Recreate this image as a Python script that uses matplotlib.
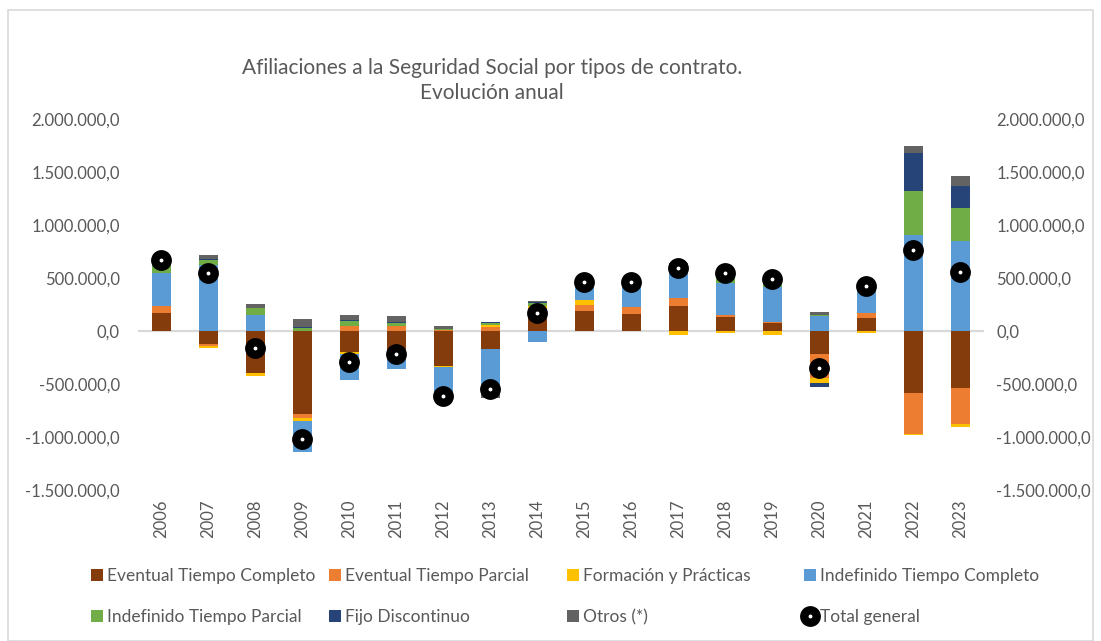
import numpy as np
import matplotlib
matplotlib.use("Agg")
from matplotlib import pyplot as plt
from matplotlib.lines import Line2D
from matplotlib.patches import Rectangle, Patch
from matplotlib.ticker import FuncFormatter

plt.rcParams["font.family"] = ["Lato", "DejaVu Sans"]
plt.rcParams["axes.unicode_minus"] = False

years = [str(y) for y in range(2006, 2024)]

# miles de afiliados
eventual_completo = [171, -125, -392, -784, -202, -200, -335, -167, 180, 193, 161, 237, 133, 76, -221, 126, -581, -537]
eventual_parcial = [63, -20, -5, -35, 51, 44, 8, 41, 40, 51, 63, 76, 16, 9, -227, 41, -395, -344]
formacion = [5, -15, -25, -32, -13, -10, -8, 16, 15, 47, 3, -41, -19, -35, -41, -15, -3, -22]
indefinido_completo = [310, 620, 155, -288, -243, -152, -288, -427, -104, 150, 220, 280, 300, 332, 145, 230, 907, 850]
indefinido_parcial = [110, 45, 60, 32, 41, 28, 10, 19, 30, 15, 20, 30, 75, 80, 2, 30, 411, 306]
fijo_discontinuo = [5, 12, 3, 3, 10, 12, 3, 10, 8, 5, 5, 5, 10, 5, -38, 5, 357, 212]
otros = [5, 38, 38, 79, 51, 54, 25, -40, 8, 8, 5, 12, 20, 25, 32, 15, 73, 92]
total_general = [667, 543, -158, -1020, -294, -215, -610, -550, 174, 464, 464, 594, 543, 490, -351, 427, 765, 553]

series = [
    ("Eventual Tiempo Completo", eventual_completo, "#843C0C"),
    ("Eventual Tiempo Parcial", eventual_parcial, "#ED7D31"),
    ("Formación y Prácticas", formacion, "#FFC000"),
    ("Indefinido Tiempo Completo", indefinido_completo, "#5B9BD5"),
    ("Indefinido Tiempo Parcial", indefinido_parcial, "#70AD47"),
    ("Fijo Discontinuo", fijo_discontinuo, "#264478"),
    ("Otros (*)", otros, "#636363"),
]

txt = "#595959"

fig = plt.figure(figsize=(11.01, 6.41), dpi=100)
ax = fig.add_axes([0.1253, 0.2356, 0.7684, 0.5788])

x = np.arange(len(years))
pos_bottom = np.zeros(len(years))
neg_bottom = np.zeros(len(years))
handles = []
for name, vals, col in series:
    v = np.array(vals) * 1000.0
    b = np.where(v >= 0, pos_bottom, neg_bottom)
    ax.bar(x, v, 0.4, bottom=b, color=col, zorder=2)
    pos_bottom += np.where(v >= 0, v, 0)
    neg_bottom += np.where(v < 0, v, 0)
    handles.append(Patch(facecolor=col, label=name))

ax.plot(x, np.array(total_general) * 1000.0, linestyle="none", marker="o",
        markersize=9, markeredgewidth=6, markerfacecolor="white",
        markeredgecolor="black", zorder=3)
handles.append(Line2D([], [], linestyle="none", marker="o", markersize=9,
                      markeredgewidth=6, markerfacecolor="white",
                      markeredgecolor="black", label="Total general"))

ax.axhline(0, color="#d9d9d9", linewidth=1.6, zorder=1)

def fmt(v, pos):
    s = f"{v:,.1f}"
    return s.replace(",", "X").replace(".", ",").replace("X", ".")

ax.set_ylim(-1.5e6, 2.0e6)
ax.set_xlim(-0.5, len(years) - 0.5)
ax.set_yticks(np.arange(-1.5e6, 2.01e6, 5e5))
ax.yaxis.set_major_formatter(FuncFormatter(fmt))
ax.set_xticks(x)
ax.set_xticklabels(years, rotation=90)
ax.tick_params(axis="both", length=0, labelsize=12, labelcolor=txt)
ax.tick_params(axis="y", pad=13)
ax.tick_params(axis="x", pad=7)
for s in ax.spines.values():
    s.set_visible(False)

ax2 = ax.twinx()
ax2.set_ylim(ax.get_ylim())
ax2.set_yticks(ax.get_yticks())
ax2.yaxis.set_major_formatter(FuncFormatter(fmt))
ax2.tick_params(axis="y", length=0, labelsize=12, labelcolor=txt, pad=9)
for s in ax2.spines.values():
    s.set_visible(False)

fig.text(0.447, 0.875, "Afiliaciones a la Seguridad Social por tipos de contrato.\nEvolución anual",
         ha="center", va="center", fontsize=15, color=txt, linespacing=1.3)

# una leyenda por columna, dos filas cada una
col_x = [91, 329, 567, 804]
for i, cx in enumerate(col_x):
    fig.legend(handles=[handles[i], handles[i + 4]], loc="upper left",
               bbox_to_anchor=(cx / 1101, 1 - 568 / 641), frameon=False,
               fontsize=12.5, labelcolor=txt, handlelength=0.7, handleheight=0.7,
               handletextpad=0.2, labelspacing=1.45, borderpad=0, borderaxespad=0)

fig.patches.append(Rectangle((0.007, 0.0), 0.986, 0.984, transform=fig.transFigure,
                             fill=False, edgecolor="#d9d9d9", linewidth=1.2))

fig.savefig("out.png", dpi=100)
